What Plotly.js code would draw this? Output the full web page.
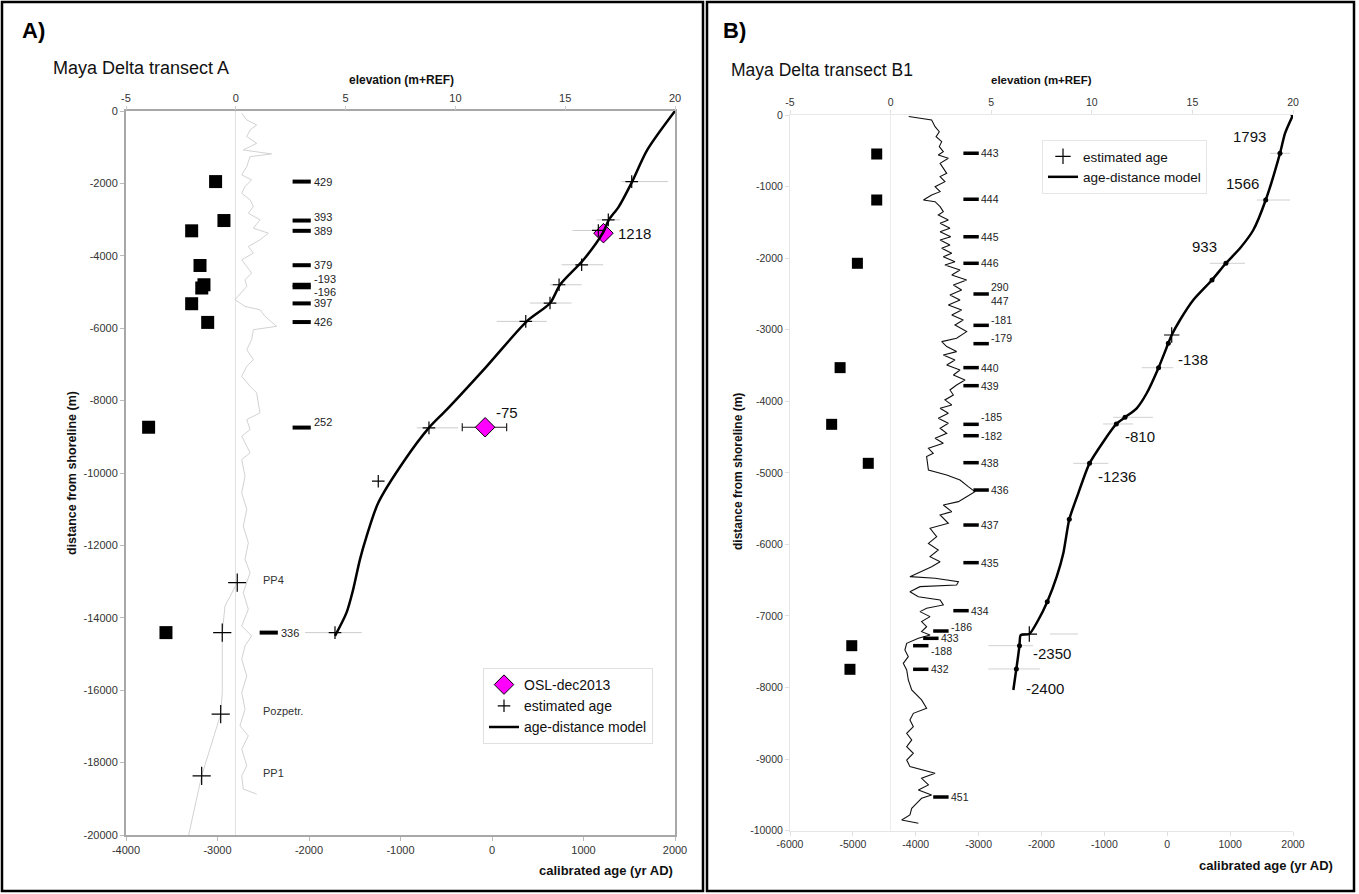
<!DOCTYPE html>
<html><head><meta charset="utf-8">
<script src="https://cdn.plot.ly/plotly-3.0.1.min.js"></script>
<style>html,body{margin:0;padding:0;background:#fff}#chart{width:1359px;height:894px}</style>
</head><body><div id="chart"></div>
<script>
// ---------- Panel A data ----------
const ageTicksA = [-4000,-3000,-2000,-1000,0,1000,2000];
const distTicksA = [0,-2000,-4000,-6000,-8000,-10000,-12000,-14000,-16000,-18000,-20000];
const elevTicks = [-5,0,5,10,15,20];

const modelA_age = [2000,1697,1532,1386,1277,1210,1000,744,635,380,-58,-495,-690,-950,-1243,-1370,-1443,-1517,-1590,-1716];
const modelA_y   = [0,-1076,-1950,-2640,-3007,-3375,-4110,-4800,-5305,-5812,-7054,-8250,-8753,-9627,-10823,-11744,-12386,-13214,-13857,-14500];

const estA_age = [1527,1271,1162,980,733,634,369,-689,-1243,-1716];
const estA_y   = [-1950,-3007,-3300,-4248,-4800,-5305,-5812,-8753,-10226,-14409];

const probA_y  = [-1950,-3007,-3300,-4248,-4800,-5305,-5812,-8753,-14409];
const probA_lo = [1415,1143,880,760,634,415,50,-822,-2044];
const probA_hi = [1925,1400,1180,1215,980,870,600,-370,-1425];

const oslAge = [1218,-75];
const oslY   = [-3375,-8736];
const oslErrPlus  = [0,235];
const oslErrMinus = [0,250];
const oslLabel = ['1218','-75'];

const ppAge = [-2784,-2948,-2965,-3173];
const ppY   = [-13029,-14409,-16662,-18364];
const ppLabel = ['PP4','','Pozpetr.','PP1'];
const ppLineAge = [-2784,-2918,-2948,-2948,-2965,-3173,-3315];
const ppLineY   = [-13029,-13674,-14409,-16064,-16662,-18364,-20000];

const sqA_elev = [-0.92,-0.54,-2.01,-1.63,-1.45,-1.55,-2.01,-1.28,-3.97,-3.18];
const sqA_y    = [-1950,-3026,-3310,-4267,-4800,-4890,-5324,-5840,-8736,-14409];

const dashA_elev  = [3,3,3,3,3,3,3,3,3,1.5];
const dashA_y     = [-1950,-3026,-3310,-4260,-4800,-4870,-5315,-5830,-8745,-14409];
const dashA_label = ['429','393','389','379','-193','-196','397','426','252','336'];

const profA_elev = [0.27,0.50,0.95,0.65,0.50,0.95,0.34,1.25,1.63,0.65,0.50,0.27,0.72,0.42,0.27,0.65,0.80,0.57,1.10,0.80,1.48,1.10,0.57,0.80,0.27,0.50,0.72,0.42,0.50,-0.04,0.42,1.10,1.33,1.86,0.80,0.72,0.50,0.80,0.50,0.27,0.65,0.95,1.10,0.50,0.65,0.27,0.50,0.65,0.27,0.42,0.27,0.50,0.34,0.57,0.42,0.65,0.34,0.57,0.27,0.72,0.42,0.27,0.50,0.27,0.42,0.19,0.57,0.27,0.50,0.27,0.34,0.95];
const profA_y = [-65,-248,-386,-524,-708,-892,-1076,-1168,-1186,-1260,-1536,-1765,-1903,-2087,-2271,-2455,-2639,-2823,-3007,-3237,-3375,-3559,-3742,-3926,-4110,-4294,-4478,-4662,-4846,-5214,-5398,-5490,-5673,-5949,-6041,-6317,-6593,-6869,-7053,-7329,-7604,-7788,-8340,-8524,-8800,-8984,-9260,-9444,-9628,-10088,-10548,-11007,-11467,-11927,-12387,-12754,-13306,-13766,-14226,-14501,-14777,-15145,-15605,-16065,-16524,-16984,-17260,-17628,-18087,-18363,-18731,-18869];

// ---------- Panel B data ----------
const ageTicksB = [-6000,-5000,-4000,-3000,-2000,-1000,0,1000,2000];
const distTicksB = [0,-1000,-2000,-3000,-4000,-5000,-6000,-7000,-8000,-9000,-10000];

const modelB_age = [2000,1873,1793,1566,1369,1157,933,712,414,203,71,17,-138,-327,-486,-672,-810,-1236,-1415,-1558,-1653,-1758,-1908,-2051,-2194,-2331,-2350,-2400,-2448];
const modelB_y   = [0,-256,-535,-1188,-1607,-1862,-2072,-2305,-2585,-2864,-3074,-3190,-3531,-3888,-4098,-4224,-4317,-4867,-5286,-5649,-6124,-6451,-6800,-7056,-7252,-7266,-7415,-7740,-8034];

const nodeB_age = [2000,1793,1566,933,712,17,-138,-672,-810,-1236,-1558,-1908,-2350,-2400];
const nodeB_y   = [0,-535,-1188,-2072,-2305,-3190,-3531,-4224,-4317,-4867,-5649,-6800,-7415,-7740];

const estB_age = [71,-2194];
const estB_y   = [-3074,-7252];

const probB_y  = [-535,-1188,-2072,-3531,-4224,-4317,-4867,-7252,-7415,-7740];
const probB_lo = [1635,1423,680,-406,-863,-1022,-1494,-1865,-2846,-2846];
const probB_hi = [1953,1953,1237,97,-227,-545,-937,-1420,-2135,-2024];

const ageLabB_text = ['1793','1566','933','-138','-810','-1236','-2350','-2400'];
const ageLabB_age  = [1793,1566,933,-138,-810,-1236,-2350,-2400];
const ageLabB_y    = [-535,-1188,-2072,-3531,-4317,-4867,-7415,-7740];

const sqB_elev = [-0.69,-0.69,-1.65,-2.51,-2.93,-1.11,-1.93,-2.02];
const sqB_y    = [-545,-1188,-2072,-3530,-4322,-4867,-7415,-7745];

const dashB_elev  = [4,4,4,4,4.5,4.5,4.5,4,4,4,4,4,4.5,4,4,3.5,2.5,2,1.5,1.5,2.5];
const dashB_y     = [-536,-1178,-1700,-2072,-2501,-2939,-3195,-3530,-3782,-4322,-4481,-4858,-5240,-5729,-6255,-6926,-7210,-7312,-7415,-7745,-9529];
const dashB_label = ['443','444','445','446','290<br>447','-181','-179','440','439','-185','-182','438','436','437','435','434','-186','433','-188','432','451'];

const profB_elev = [0.9,2.04,2.21,2.42,2.26,2.54,2.42,2.62,2.37,2.87,2.46,2.62,2.79,2.46,2.70,2.21,2.46,2.04,1.63,2.21,2.46,2.62,2.37,2.87,2.46,2.95,2.46,2.99,2.46,2.95,2.54,3.04,2.62,3.20,2.70,3.45,3.04,3.78,3.12,3.53,2.95,3.45,2.87,3.53,3.04,3.61,3.20,3.78,3.28,2.54,2.79,3.28,2.62,3.20,2.79,3.45,3.12,3.70,3.28,2.95,3.12,2.70,3.04,2.46,2.87,2.37,2.87,2.46,2.79,2.21,2.62,1.88,2.12,1.79,1.88,2.79,3.45,3.86,4.19,3.78,3.37,2.62,3.04,2.46,2.87,1.96,2.29,1.88,2.37,1.96,2.46,2.04,1.46,0.96,2.21,3.37,3.28,1.46,0.96,1.38,2.46,2.62,1.79,1.46,1.96,1.54,1.79,1.54,1.96,1.38,0.80,0.71,0.88,0.63,0.80,0.88,1.05,1.54,1.79,1.13,0.96,1.13,0.80,1.05,0.80,1.13,0.80,0.96,2.21,1.54,1.88,1.38,2.04,1.54,1.29,1.05,0.96,0.55,1.38];
const profB_y = [-20,-70,-163,-233,-303,-373,-442,-512,-559,-605,-675,-745,-815,-861,-931,-1001,-1071,-1118,-1188,-1211,-1281,-1350,-1397,-1467,-1513,-1583,-1630,-1700,-1746,-1816,-1863,-1933,-1979,-2049,-2096,-2165,-2235,-2305,-2375,-2445,-2515,-2585,-2654,-2724,-2794,-2864,-2934,-3027,-3120,-3167,-3236,-3306,-3353,-3423,-3493,-3563,-3632,-3702,-3772,-3842,-3912,-3981,-4051,-4098,-4168,-4238,-4307,-4377,-4447,-4517,-4587,-4657,-4727,-4773,-4960,-5030,-5100,-5193,-5263,-5333,-5402,-5449,-5542,-5589,-5705,-5775,-5891,-5985,-6078,-6171,-6241,-6311,-6380,-6450,-6473,-6520,-6567,-6590,-6660,-6730,-6776,-6846,-6893,-6939,-7009,-7079,-7149,-7219,-7265,-7312,-7382,-7475,-7568,-7661,-7754,-7894,-8034,-8173,-8290,-8360,-8453,-8546,-8639,-8732,-8825,-8918,-9012,-9105,-9198,-9268,-9361,-9431,-9501,-9547,-9617,-9687,-9780,-9850,-9896];

// ---------- styling (pixel placement helpers) ----------
const W = 1359, H = 894;
const fx = p => p / W, fy = p => 1 - p / H;
const FONT = 'Liberation Sans, Arial, Helvetica, sans-serif';
const dashA_shift = [0,4,0,0,6,-5,0,0,6,0];
const dashB_shift = [0,0,0,0,0,5,6,0,0,7,0,0,0,0,0,0,4,0,-5,0,0];
const ageLabB_dx = [-12,-5,-7,17,7,6,12,8];
const ageLabB_dy = [17,17,17,8,-13,-13,-8,-20];
const ageLabB_anchor = ['right','right','right','left','left','left','left','left'];

function segs(ys, lo, hi) {
  const x = [], y = [];
  ys.forEach((v, i) => { x.push(lo[i], hi[i], null); y.push(v, v, null); });
  return {x, y};
}
const pA = segs(probA_y, probA_lo, probA_hi);
const pB = segs(probB_y, probB_lo, probB_hi);

const traces = [
  // Panel A, elevation axis
  {x: profA_elev, y: profA_y, xaxis:'x2', yaxis:'y', mode:'lines', line:{color:'#d2d2d2', width:1}, showlegend:false, hoverinfo:'skip'},
  {x: sqA_elev, y: sqA_y, xaxis:'x2', yaxis:'y', mode:'markers', marker:{symbol:'square', size:13, color:'#000'}, showlegend:false},
  {x: dashA_elev, y: dashA_y, xaxis:'x2', yaxis:'y', mode:'markers', marker:{symbol:'line-ew', size:13, line:{color:'#000', width:4}}, showlegend:false},
  // Panel A, age axis
  {x: pA.x, y: pA.y, xaxis:'x', yaxis:'y', mode:'lines', line:{color:'#cccccc', width:1}, showlegend:false, hoverinfo:'skip'},
  {x: ppLineAge, y: ppLineY, xaxis:'x', yaxis:'y', mode:'lines', line:{color:'#d2d2d2', width:1}, showlegend:false},
  {x: ppAge, y: ppY, xaxis:'x', yaxis:'y', mode:'markers', marker:{symbol:'cross-thin', size:13, line:{color:'#000', width:1.2}}, showlegend:false},
  {x: oslAge, y: oslY, xaxis:'x', yaxis:'y', mode:'markers', name:'OSL-dec2013', legend:'legend',
   marker:{symbol:'diamond', size:15, color:'#ff00ff', line:{color:'#000', width:1}},
   error_x:{type:'data', symmetric:false, array: oslErrPlus, arrayminus: oslErrMinus, color:'#222', thickness:1.2, width:4}},
  {x: estA_age, y: estA_y, xaxis:'x', yaxis:'y', mode:'markers', name:'estimated age', legend:'legend',
   marker:{symbol:'cross-thin', size:9, line:{color:'#000', width:1.2}}},
  {x: modelA_age, y: modelA_y, xaxis:'x', yaxis:'y', mode:'lines', name:'age-distance model', legend:'legend',
   line:{color:'#000', width:2.5, shape:'spline', smoothing:0.8}},
  // Panel B, elevation axis
  {x: profB_elev, y: profB_y, xaxis:'x4', yaxis:'y3', mode:'lines', line:{color:'#111', width:1.1}, showlegend:false},
  {x: sqB_elev, y: sqB_y, xaxis:'x4', yaxis:'y3', mode:'markers', marker:{symbol:'square', size:11, color:'#000'}, showlegend:false},
  {x: dashB_elev, y: dashB_y, xaxis:'x4', yaxis:'y3', mode:'markers', marker:{symbol:'line-ew', size:11, line:{color:'#000', width:3.5}}, showlegend:false},
  // Panel B, age axis
  {x: pB.x, y: pB.y, xaxis:'x3', yaxis:'y3', mode:'lines', line:{color:'#d0d0d0', width:1}, showlegend:false, hoverinfo:'skip'},
  {x: estB_age, y: estB_y, xaxis:'x3', yaxis:'y3', mode:'markers', name:'estimated age', legend:'legend2',
   marker:{symbol:'cross-thin', size:11, line:{color:'#000', width:1.2}}},
  {x: modelB_age, y: modelB_y, xaxis:'x3', yaxis:'y3', mode:'lines', name:'age-distance model', legend:'legend2',
   line:{color:'#000', width:2.5, shape:'spline', smoothing:0.6}},
  {x: nodeB_age, y: nodeB_y, xaxis:'x3', yaxis:'y3', mode:'markers', marker:{symbol:'circle', size:5, color:'#000'}, showlegend:false}
];

const annotations = [];
function ann(o) { annotations.push(Object.assign({showarrow:false, font:{family:FONT, size:11, color:'#222'}}, o)); }

dashA_label.forEach((t, i) => ann({x: dashA_elev[i], y: dashA_y[i], xref:'x2', yref:'y', text:t, xanchor:'left', yanchor:'middle', xshift:10, yshift:dashA_shift[i], font:{family:FONT, size:11, color:'#222'}}));
dashB_label.forEach((t, i) => ann({x: dashB_elev[i], y: dashB_y[i], xref:'x4', yref:'y3', text:t, xanchor:'left', yanchor:'middle', xshift:8, yshift:dashB_shift[i], font:{family:FONT, size:10.5, color:'#222'}}));
ppLabel.forEach((t, i) => { if (t) ann({x: -2520, y: ppY[i], xref:'x', yref:'y', text:t, xanchor:'left', yanchor:'middle', yshift:3, font:{family:FONT, size:11, color:'#333'}}); });
ann({x: oslAge[0], y: oslY[0], xref:'x', yref:'y', text: oslLabel[0], xanchor:'left', yanchor:'middle', xshift:13, font:{family:FONT, size:15, color:'#111'}});
ann({x: oslAge[1], y: oslY[1], xref:'x', yref:'y', text: oslLabel[1], xanchor:'left', yanchor:'middle', xshift:9, yshift:15, font:{family:FONT, size:15, color:'#111'}});
ageLabB_text.forEach((t, i) => ann({x: ageLabB_age[i], y: ageLabB_y[i], xref:'x3', yref:'y3', text:t, xanchor:ageLabB_anchor[i], yanchor:'middle', xshift:ageLabB_dx[i], yshift:ageLabB_dy[i], font:{family:FONT, size:15, color:'#111'}}));

// titles
ann({x: fx(20), y: fy(31), xref:'paper', yref:'paper', text:'<b>A)</b>', xanchor:'left', yanchor:'middle', font:{family:FONT, size:22, color:'#000'}});
ann({x: fx(721), y: fy(31), xref:'paper', yref:'paper', text:'<b>B)</b>', xanchor:'left', yanchor:'middle', font:{family:FONT, size:22, color:'#000'}});
ann({x: fx(51), y: fy(68), xref:'paper', yref:'paper', text:'Maya Delta transect A', xanchor:'left', yanchor:'middle', font:{family:FONT, size:18, color:'#111'}});
ann({x: fx(729), y: fy(70), xref:'paper', yref:'paper', text:'Maya Delta transect B1', xanchor:'left', yanchor:'middle', font:{family:FONT, size:17.5, color:'#111'}});
ann({x: fx(401), y: fy(80), xref:'paper', yref:'paper', text:'<b>elevation (m+REF)</b>', xanchor:'center', yanchor:'middle', font:{family:FONT, size:12, color:'#111'}});
ann({x: fx(1041), y: fy(80), xref:'paper', yref:'paper', text:'<b>elevation (m+REF)</b>', xanchor:'center', yanchor:'middle', font:{family:FONT, size:11.5, color:'#111'}});
ann({x: fx(675), y: fy(870), xref:'paper', yref:'paper', text:'<b>calibrated age (yr AD)</b>', xanchor:'right', yanchor:'middle', font:{family:FONT, size:13, color:'#111'}});
ann({x: fx(1335), y: fy(865), xref:'paper', yref:'paper', text:'<b>calibrated age (yr AD)</b>', xanchor:'right', yanchor:'middle', font:{family:FONT, size:13, color:'#111'}});
ann({x: fx(72), y: fy(473), xref:'paper', yref:'paper', text:'<b>distance from shoreline (m)</b>', textangle:-90, xanchor:'center', yanchor:'middle', font:{family:FONT, size:12.5, color:'#111'}});
ann({x: fx(738), y: fy(472), xref:'paper', yref:'paper', text:'<b>distance from shoreline (m)</b>', textangle:-90, xanchor:'center', yanchor:'middle', font:{family:FONT, size:12, color:'#111'}});

const tickStr = a => a.map(v => String(v));
const baseAx = {showgrid:false, zeroline:false, fixedrange:true, ticks:'outside', ticklen:4};

const layout = {
  width: W, height: H, margin:{l:0, r:0, t:0, b:0},
  paper_bgcolor:'#fff', plot_bgcolor:'rgba(0,0,0,0)',
  font:{family:FONT, color:'#222'},
  hovermode:false,
  xaxis: Object.assign({}, baseAx, {domain:[fx(126), fx(675)], range:[-4000,2000], anchor:'y',
    tickvals: ageTicksA, ticktext: tickStr(ageTicksA), showline:true, linecolor:'#a8a8a8', linewidth:2, mirror:true,
    tickcolor:'#bbb', tickfont:{family:FONT, size:11, color:'#333'}}),
  yaxis: Object.assign({}, baseAx, {domain:[fy(835), fy(111)], range:[-20000,0], anchor:'x',
    tickvals: distTicksA, ticktext: tickStr(distTicksA), showline:true, linecolor:'#a8a8a8', linewidth:2, mirror:true,
    tickcolor:'#bbb', tickfont:{family:FONT, size:11, color:'#333'}}),
  xaxis2: Object.assign({}, baseAx, {overlaying:'x', side:'top', anchor:'y', range:[-5,20],
    tickvals: elevTicks, ticktext: tickStr(elevTicks), showline:false, zeroline:true, zerolinecolor:'#e2e2e2', zerolinewidth:1,
    tickcolor:'#ccc', tickfont:{family:FONT, size:11, color:'#333'}}),
  xaxis3: Object.assign({}, baseAx, {domain:[fx(790), fx(1293)], range:[-6000,2000], anchor:'y3',
    tickvals: ageTicksB, ticktext: tickStr(ageTicksB), showline:true, linecolor:'#e6e6e6', linewidth:1,
    tickcolor:'#e0e0e0', tickfont:{family:FONT, size:10.5, color:'#333'}}),
  yaxis3: Object.assign({}, baseAx, {domain:[fy(830.7), fy(115)], range:[-10000,0], anchor:'x3',
    tickvals: distTicksB, ticktext: tickStr(distTicksB), showline:true, linecolor:'#e6e6e6', linewidth:1,
    tickcolor:'#e0e0e0', tickfont:{family:FONT, size:10.5, color:'#333'}}),
  xaxis4: Object.assign({}, baseAx, {overlaying:'x3', side:'top', anchor:'y3', range:[-5,20],
    tickvals: elevTicks, ticktext: tickStr(elevTicks), showline:true, linecolor:'#e8e8e8', zeroline:true, zerolinecolor:'#ececec', zerolinewidth:1,
    tickcolor:'#e0e0e0', tickfont:{family:FONT, size:10.5, color:'#333'}}),
  legend: {x: fx(483), y: fy(668), xanchor:'left', yanchor:'top', bgcolor:'#fff', bordercolor:'#e0e0e0', borderwidth:1,
    font:{family:FONT, size:14, color:'#111'}, tracegroupgap:0, itemclick:false, itemdoubleclick:false},
  legend2: {x: fx(1042), y: fy(140), xanchor:'left', yanchor:'top', bgcolor:'#fff', bordercolor:'#e6e6e6', borderwidth:1,
    font:{family:FONT, size:13.5, color:'#111'}, tracegroupgap:0, itemclick:false, itemdoubleclick:false},
  annotations: annotations,
  shapes: [
    {type:'rect', xref:'paper', yref:'paper', x0:fx(2), x1:fx(703), y0:fy(891), y1:fy(2), line:{color:'#000', width:2.5}},
    {type:'rect', xref:'paper', yref:'paper', x0:fx(707), x1:fx(1354), y0:fy(891), y1:fy(2), line:{color:'#000', width:2.5}}
  ]
};

Plotly.newPlot('chart', traces, layout, {staticPlot:true, displayModeBar:false});
</script>
</body></html>
